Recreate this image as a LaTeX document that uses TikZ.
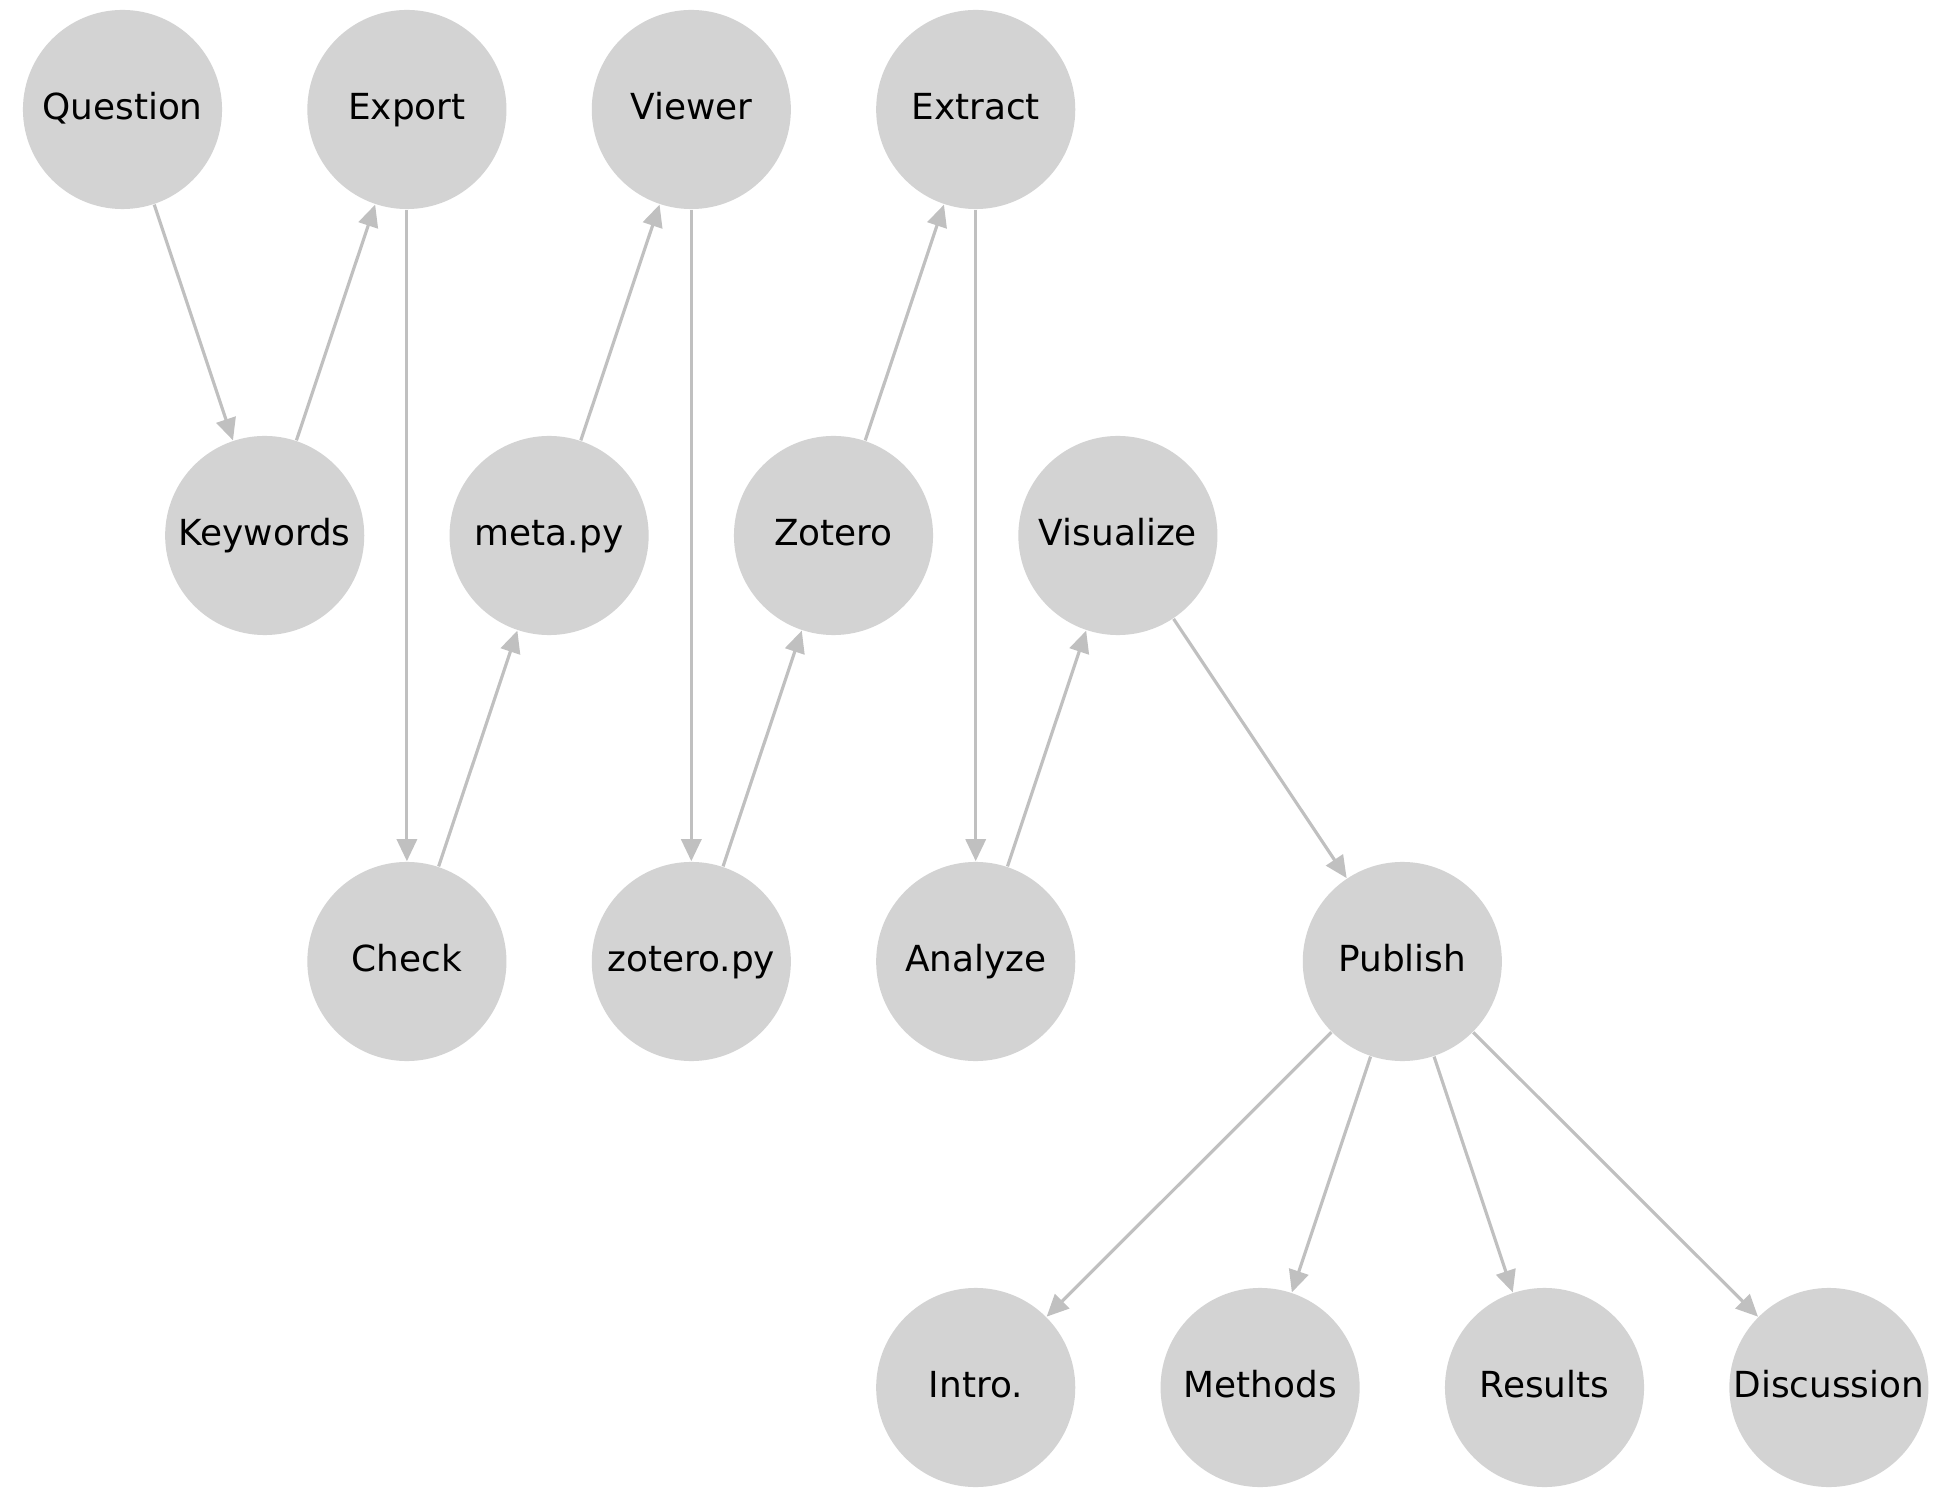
\documentclass[tikz,border=0pt]{standalone}
\usepackage{fontspec}
\setmainfont{DejaVu Sans}
\usetikzlibrary{arrows.meta}
\definecolor{nodefill}{HTML}{D3D3D3}
\definecolor{edgecol}{HTML}{C0C0C0}
\tikzset{
  circ/.style={circle, fill=nodefill, draw=none, minimum size=1.99cm, inner sep=0pt, font=\fontsize{10.2}{12}\selectfont, text=black, text height=7.6pt, text depth=2pt},
  conn/.style={draw=edgecol, line width=0.9pt, -{Triangle[length=0.22cm,width=0.2cm]}}
}
\begin{document}
\begin{tikzpicture}[x=0.01cm,y=-0.01cm]
\useasboundingbox (0,0) rectangle (1946,1498);
% row 0
\node[circ] (question) at (122.5,109.5) {Question};
\node[circ] (export) at (406.9,109.5) {Export};
\node[circ] (viewer) at (691.3,109.5) {Viewer};
\node[circ] (extract) at (975.7,109.5) {Extract};
% row 1
\node[circ] (keywords) at (264.7,535.5) {Keywords};
\node[circ] (meta) at (549.1,535.5) {meta.py};
\node[circ] (zotero) at (833.5,535.5) {Zotero};
\node[circ] (visualize) at (1117.9,535.5) {Visualize};
% row 2
\node[circ] (check) at (406.9,961.5) {Check};
\node[circ] (zoteropy) at (691.3,961.5) {zotero.py};
\node[circ] (analyze) at (975.7,961.5) {Analyze};
\node[circ] (publish) at (1402.3,961.5) {Publish};
% row 3
\node[circ] (intro) at (975.7,1387.5) {Intro.};
\node[circ] (methods) at (1260.1,1387.5) {Methods};
\node[circ] (results) at (1544.5,1387.5) {Results};
\node[circ] (discussion) at (1828.9,1387.5) {Discussion};
% edges
\draw[conn] (question) -- (keywords);
\draw[conn] (keywords) -- (export);
\draw[conn] (export) -- (check);
\draw[conn] (check) -- (meta);
\draw[conn] (meta) -- (viewer);
\draw[conn] (viewer) -- (zoteropy);
\draw[conn] (zoteropy) -- (zotero);
\draw[conn] (zotero) -- (extract);
\draw[conn] (extract) -- (analyze);
\draw[conn] (analyze) -- (visualize);
\draw[conn] (visualize) -- (publish);
\draw[conn] (publish) -- (intro);
\draw[conn] (publish) -- (methods);
\draw[conn] (publish) -- (results);
\draw[conn] (publish) -- (discussion);
\end{tikzpicture}
\end{document}
